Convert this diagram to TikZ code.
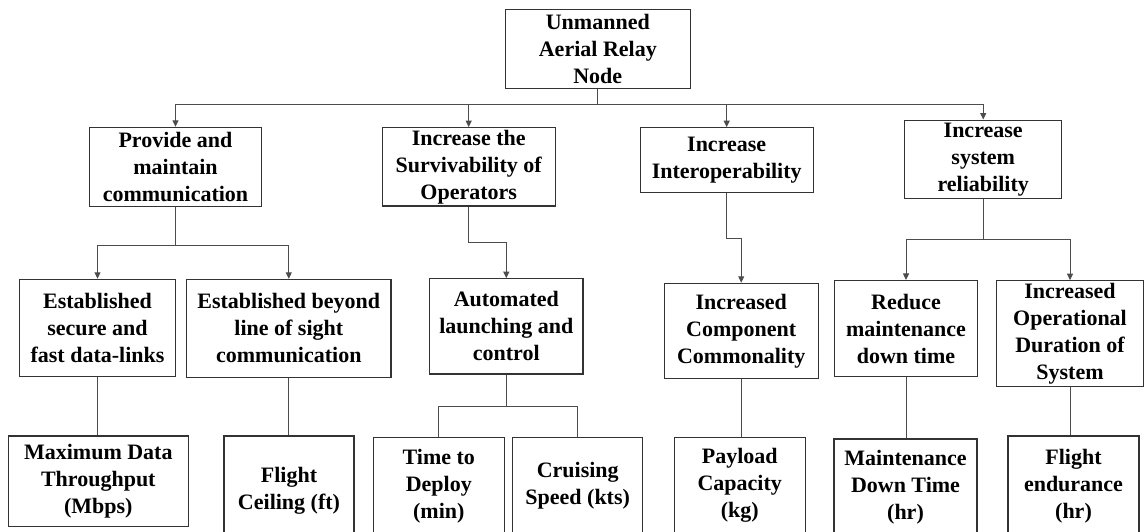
\documentclass[tikz,border=0pt]{standalone}
\usepackage{fontspec}
\setmainfont{Liberation Serif}
\usetikzlibrary{arrows.meta}
\begin{document}
\begin{tikzpicture}[x=1pt,y=-1pt,
  box/.style={draw=black!80, line width=1.1pt, align=center, inner sep=1pt,
    font=\bfseries\fontsize{22}{27}\selectfont},
  conn/.style={draw=black!70, line width=1pt},
  arr/.style={conn, -{Triangle[length=6.5pt,width=6pt]}}]
\useasboundingbox (0,0) rectangle (1145,531);
% level 0
\node[box, minimum width=185pt, minimum height=79pt] (root) at (597.8,48.8) {Unmanned\\Aerial Relay\\Node};
% level 1
\node[box, minimum width=172.4pt, minimum height=78.7pt] (A) at (175.5,166.7) {Provide and\\maintain\\communication};
\node[box, minimum width=173.3pt, minimum height=78.3pt] (B) at (468.7,166.8) {Increase the\\Survivability of\\Operators};
\node[box, minimum width=173.3pt, minimum height=65pt] (C) at (726.7,160.2) {Increase\\Interoperability};
\node[box, minimum width=157pt, minimum height=78.3pt] (D) at (983.2,159.2) {Increase\\system\\reliability};
% level 2
\node[box, minimum width=156.4pt, minimum height=97.4pt] (A1) at (97.5,328) {Established\\secure and\\fast data-links};
\node[box, minimum width=204.3pt, minimum height=97.7pt] (A2) at (288.8,328.2) {Established beyond\\line of sight\\communication};
\node[box, minimum width=153.3pt, minimum height=95.3pt] (B1) at (506.3,326.3) {Automated\\launching and\\control};
\node[box, minimum width=154.3pt, minimum height=95pt] (C1) at (741.2,330.8) {Increased\\Component\\Commonality};
\node[box, minimum width=142.6pt, minimum height=96.2pt] (D1) at (906,328.6) {Reduce\\maintenance\\down time};
\node[box, minimum width=147pt, minimum height=106pt] (D2) at (1070,333.7) {Increased\\Operational\\Duration of\\System};
% level 3
\node[box, minimum width=180pt, minimum height=90.7pt] (M1) at (98.3,481.3) {Maximum Data\\Throughput\\(Mbps)};
\node[box, minimum width=130pt, minimum height=110pt] (M2) at (289,491) {Flight\\Ceiling (ft)};
\node[box, minimum width=131pt, minimum height=96pt] (M3) at (438.8,485.7) {Time to\\Deploy\\(min)};
\node[box, minimum width=130pt, minimum height=96pt] (M4) at (577.7,485.7) {Cruising\\Speed (kts)};
\node[box, minimum width=130.7pt, minimum height=96pt] (M5) at (739.7,485.7) {Payload\\Capacity\\(kg)};
\node[box, minimum width=143pt, minimum height=96pt] (M6) at (905.5,487) {Maintenance\\Down Time\\(hr)};
\node[box, minimum width=131pt, minimum height=100pt] (M7) at (1073.5,486) {Flight\\endurance\\(hr)};
% connectors level 0 -> 1
\foreach \t in {A,B,C,D}{
  \draw[arr] (root.south) -- ++(0,15.8) -| (\t.north);
}
% level 1 -> 2
\draw[arr] (A.south) -- ++(0,39) -| (A1.north);
\draw[arr] (A.south) -- ++(0,39) -| (A2.north);
\draw[arr] (B.south) -- ++(0,35.7) -| (B1.north);
\draw[arr] (C.south) -- ++(0,45.6) -| (C1.north);
\draw[arr] (D.south) -- ++(0,41) -| (D1.north);
\draw[arr] (D.south) -- ++(0,41) -| (D2.north);
% level 2 -> 3
\draw[conn] (A1.south) -- (A1.south |- M1.north);
\draw[conn] (A2.south) -- (A2.south |- M2.north);
\draw[conn] (B1.south) -- ++(0,31.7) -| (M3.north);
\draw[conn] (B1.south) -- ++(0,31.7) -| (M4.north);
\draw[conn] (C1.south) -- (C1.south |- M5.north);
\draw[conn] (D1.south) -- (D1.south |- M6.north);
\draw[conn] (D2.south) -- (D2.south |- M7.north);
\end{tikzpicture}
\end{document}
